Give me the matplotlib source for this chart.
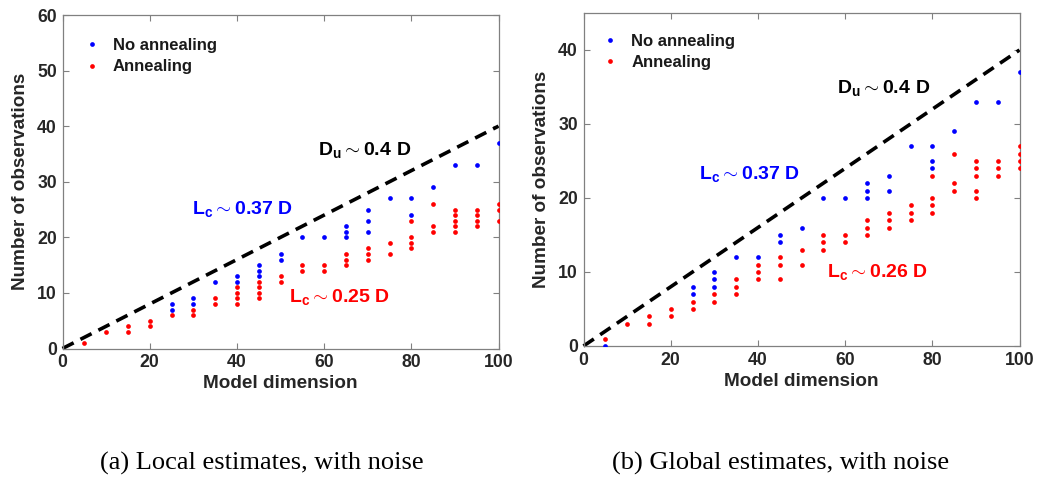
import matplotlib
matplotlib.use("Agg")
import matplotlib.pyplot as plt

plt.rcParams['font.family'] = ['Liberation Sans', 'DejaVu Sans']
plt.rcParams['font.weight'] = 'bold'
plt.rcParams['mathtext.fontset'] = 'custom'
plt.rcParams['mathtext.bf'] = 'Liberation Sans:bold'
plt.rcParams['mathtext.rm'] = 'Liberation Sans:bold'
plt.rcParams['mathtext.it'] = 'Liberation Sans:bold'
plt.rcParams['mathtext.default'] = 'bf'
plt.rcParams['lines.scale_dashes'] = False

# Model dimensions sampled
dims = [5, 10, 15, 20, 25, 30, 35, 40, 45, 50, 55, 60, 65, 70, 75, 80, 85, 90, 95, 100]

# (a) Local estimates: observation counts per dimension
local_no_anneal = {
    25: [8, 7], 30: [9, 8], 35: [12], 40: [13, 12], 45: [15, 14, 13],
    50: [17, 16], 55: [20], 60: [20], 65: [22, 21, 20], 70: [25, 23, 21],
    75: [27], 80: [27, 24], 85: [29], 90: [33], 95: [33], 100: [37],
}
local_anneal = {
    5: [1], 10: [3], 15: [4, 3], 20: [5, 4], 25: [6], 30: [7, 6], 35: [9, 8],
    40: [11, 10, 9, 8], 45: [12, 11, 10, 9], 50: [13, 12], 55: [15, 14],
    60: [15, 14], 65: [17, 16, 15], 70: [18, 17, 16], 75: [19, 17],
    80: [23, 20, 19, 18], 85: [26, 22, 21], 90: [25, 24, 23, 22, 21],
    95: [25, 24, 23, 22], 100: [26, 25, 23],
}

# (b) Global estimates: observation counts per dimension
global_no_anneal = {
    5: [0], 25: [8, 7], 30: [10, 9, 8], 35: [12], 40: [12], 45: [15, 14],
    50: [16], 55: [20], 60: [20], 65: [22, 21, 20], 70: [23, 21], 75: [27],
    80: [27, 25, 24], 85: [29], 90: [33], 95: [33], 100: [37],
}
global_anneal = {
    5: [1], 10: [3], 15: [4, 3], 20: [5, 4], 25: [6, 5], 30: [7, 6],
    35: [9, 8, 7], 40: [11, 10, 9], 45: [12, 11, 9], 50: [13, 11],
    55: [15, 14, 13], 60: [15, 14], 65: [17, 16, 15], 70: [18, 17, 16],
    75: [19, 18, 17], 80: [23, 20, 19, 18], 85: [26, 22, 21],
    90: [25, 24, 23, 21, 20], 95: [25, 24, 23], 100: [27, 26, 25, 24],
}

# Upper-bound slope D_u ~ 0.4 D
du_slope = 0.4
x_line = [0, 100]

legend_labels = ['No annealing', 'Annealing']
xlabel = 'Model dimension'
ylabel = 'Number of observations'

W, H = 1037, 478
fig = plt.figure(figsize=(W / 100, H / 100), dpi=100)


def px_axes(x0, x1, ytop, ybot):
    return fig.add_axes([x0 / W, 1 - ybot / H, (x1 - x0) / W, (ybot - ytop) / H])


def flatten(d):
    xs, ys = [], []
    for k in dims:
        for v in d.get(k, []):
            xs.append(k)
            ys.append(v)
    return xs, ys


def draw_panel(ax, no_anneal, anneal, ymax, yticks, notes, leg_anchor):
    bx, by = flatten(no_anneal)
    rx, ry = flatten(anneal)
    ax.plot(bx, by, 'o', color='#0000ff', ms=3.4, mew=0, label=legend_labels[0], zorder=3)
    ax.plot(rx, ry, 'o', color='#ff0000', ms=3.4, mew=0, label=legend_labels[1], zorder=3)
    ax.plot(x_line, [du_slope * v for v in x_line], color='black', lw=2.6,
            dashes=(9, 5.5), zorder=2, clip_on=False)
    ax.set_xlim(0, 100)
    ax.set_ylim(0, ymax)
    ax.set_xticks([0, 20, 40, 60, 80, 100])
    ax.set_yticks(yticks)
    ax.tick_params(direction='in', length=4, width=0.8, color='#808080',
                   labelcolor='#262626', labelsize=12.7, top=True, right=True, pad=4)
    for lab in ax.get_xticklabels() + ax.get_yticklabels():
        lab.set_fontweight('bold')
    for s in ax.spines.values():
        s.set_color('#808080')
        s.set_linewidth(0.9)
    ax.set_xlabel(xlabel, fontsize=13.6, fontweight='bold', color='#262626', labelpad=3)
    ax.set_ylabel(ylabel, fontsize=13.6, fontweight='bold', color='#262626', labelpad=6)
    leg = ax.legend(loc='upper left', bbox_to_anchor=leg_anchor, frameon=False,
                    fontsize=12, handletextpad=0.75, handlelength=1.0,
                    borderaxespad=0.3, labelspacing=0.38, markerscale=1.0)
    for t in leg.get_texts():
        t.set_color('#1a1a1a')
    for (x, y, s, c) in notes:
        ax.text(x, y, s, color=c, fontsize=14, va='center', ha='left')


ax1 = px_axes(62.5, 498.5, 15, 348.5)
draw_panel(ax1, local_no_anneal, local_anneal, 60, [0, 10, 20, 30, 40, 50, 60], [
    (58.7, 35.8, r'$D_u \sim 0.4\ D$', 'black'),
    (29.8, 25.1, r'$L_c \sim 0.37\ D$', '#0000ff'),
    (52, 9.2, r'$L_c \sim 0.25\ D$', '#ff0000'),
], (0.022, 0.966))

ax2 = px_axes(583.5, 1019.5, 13, 346)
draw_panel(ax2, global_no_anneal, global_anneal, 45, [0, 10, 20, 30, 40], [
    (58.2, 34.8, r'$D_u \sim 0.4\ D$', 'black'),
    (26.5, 23.3, r'$L_c \sim 0.37\ D$', '#0000ff'),
    (55.8, 10.0, r'$L_c \sim 0.26\ D$', '#ff0000'),
], (0.016, 0.972))

fig.text(261.5 / W, 1 - 463 / H, '(a) Local estimates, with noise', fontsize=19,
         family='Liberation Serif', fontweight='normal', ha='center', va='center')
fig.text(781 / W, 1 - 463 / H, '(b) Global estimates, with noise', fontsize=19,
         family='Liberation Serif', fontweight='normal', ha='center', va='center')

fig.savefig('out.png', dpi=100)
